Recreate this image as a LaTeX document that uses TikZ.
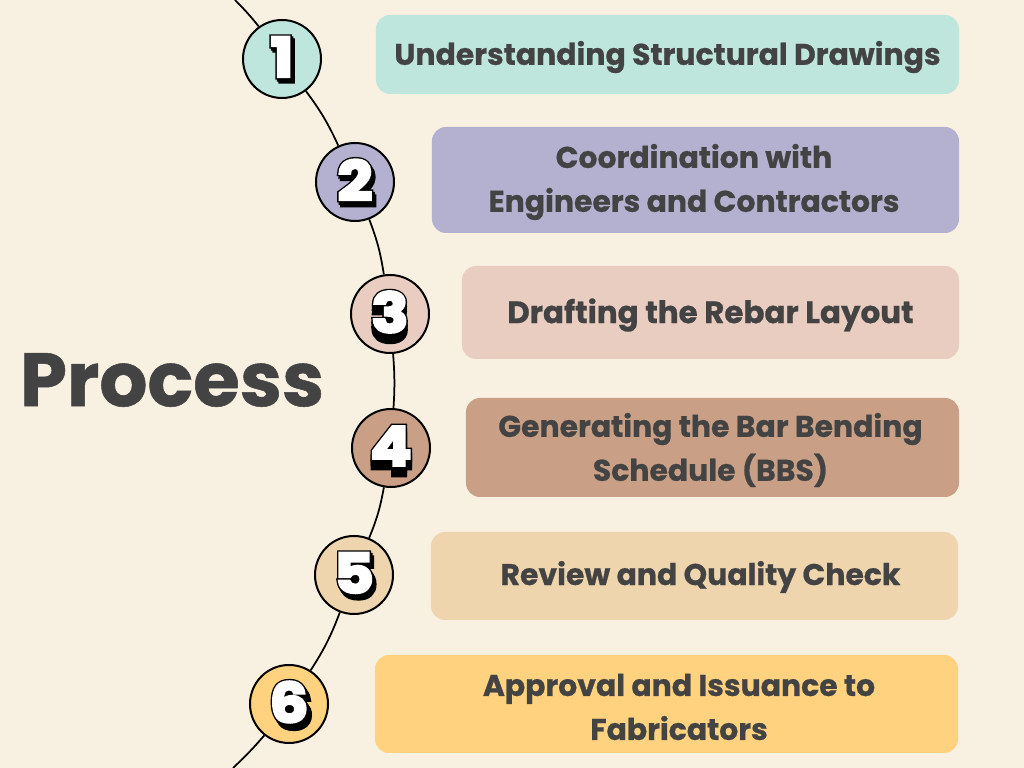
\documentclass[tikz,border=0pt]{standalone}
\usepackage{fontspec}
\setmainfont{Poppins}[BoldFeatures={FakeBold=0.7}]
\newfontfamily\digitface{Poppins}[BoldFeatures={FakeBold=5,FakeStretch=1.12}]
\newfontfamily\digitedge{Poppins}[BoldFeatures={FakeBold=10,FakeStretch=1.12}]
\usepackage{tikz}
\definecolor{cream}{RGB}{248, 240, 225}
\definecolor{ink}{RGB}{67, 67, 67}
\definecolor{mint}{RGB}{191, 230, 220}
\definecolor{lavender}{RGB}{179, 177, 207}
\definecolor{blush}{RGB}{233, 205, 193}
\definecolor{clay}{RGB}{201, 160, 134}
\definecolor{sand}{RGB}{239, 213, 174}
\definecolor{honey}{RGB}{255, 210, 127}
\tikzset{
  stepdot/.style={circle, draw=black, line width=0.4mm, minimum size=15.6mm, inner sep=0pt},
  stepbar/.style={rectangle, rounded corners=2.8mm, inner sep=0pt},
  steptext/.style={text=ink, align=center, font=\fontsize{17}{25}\selectfont\bfseries},
  wire/.style={black, line width=0.35mm},
  edgefont/.style={text=black, font=\fontsize{31}{31}\selectfont\digitedge\bfseries},
  facefont/.style={text=white, font=\fontsize{31}{31}\selectfont\digitface\bfseries},
}
% black block behind the digit, then the white face
\newcommand{\stepdigit}[5]{
  \node[edgefont] (#1a) at ([shift={(0,-2)}]#2) {#3};
  \node[edgefont] (#1b) at ([shift={(#4/2,#5/2-2)}]#2) {#3};
  \node[edgefont] (#1c) at ([shift={(#4,#5-2)}]#2) {#3};
  \node[facefont] (#1f) at ([shift={(0,-2)}]#2) {#3};
}
\begin{document}
\begin{tikzpicture}[x=0.2mm, y=-0.2mm]
  \useasboundingbox[fill=cream] (0,0) rectangle (1024,768);
  % bars
  \node[stepbar, fill=mint,     minimum width=116.6mm, minimum height=15.8mm] (bar1) at (667.5, 54.5) {};
  \node[stepbar, fill=lavender, minimum width=105.4mm, minimum height=21.2mm] (bar2) at (695.5,180) {};
  \node[stepbar, fill=blush,    minimum width=99.4mm,  minimum height=18.6mm] (bar3) at (710.5,312.5) {};
  \node[stepbar, fill=clay,     minimum width=98.6mm,  minimum height=19.8mm] (bar4) at (712.5,447.5) {};
  \node[stepbar, fill=sand,     minimum width=105.4mm, minimum height=17.6mm] (bar5) at (694.5,576) {};
  \node[stepbar, fill=honey,    minimum width=116.6mm, minimum height=19.6mm] (bar6) at (666.5,704) {};
  % bar labels
  \node[steptext] (label1) at (667.5, 57) {Understanding Structural Drawings};
  \node[steptext] (label2) at (694,182) {Coordination with\\Engineers and Contractors};
  \node[steptext, font=\fontsize{17.6}{25}\selectfont\bfseries] (label3) at (710.5,315) {Drafting the Rebar Layout};
  \node[steptext] (label4) at (710.5,450) {Generating the Bar Bending\\Schedule (BBS)};
  \node[steptext] (label5) at (700.5,577) {Review and Quality Check};
  \node[steptext] (label6) at (679,707) {Approval and Issuance to\\Fabricators};
  \node[text=ink, font=\fontsize{43}{43}\selectfont\bfseries] (title) at (172,380) {Process};
  % circles
  \node[stepdot, fill=mint]     (dot1) at (282, 59) {};
  \node[stepdot, fill=lavender] (dot2) at (355,182) {};
  \node[stepdot, fill=blush]    (dot3) at (390,314) {};
  \node[stepdot, fill=clay]     (dot4) at (391,448) {};
  \node[stepdot, fill=sand]     (dot5) at (354,575) {};
  \node[stepdot, fill=honey]    (dot6) at (289,704) {};
  % the long curve
  \coordinate (topend) at (235,0);
  \coordinate (botend) at (233,768);
  \draw[wire] (topend) to[bend left=3] (dot1);
  \draw[wire] (dot1) to[bend left=6] (dot2);
  \draw[wire] (dot2) to[bend left=6] (dot3);
  \draw[wire] (dot3) to[bend left=4] (dot4);
  \draw[wire] (dot4) to[bend left=6] (dot5);
  \draw[wire] (dot5) to[bend left=6] (dot6);
  \draw[wire] (dot6) to[bend left=3] (botend);
  % digits
  \stepdigit{n1}{dot1}{1}{3}{4}
  \stepdigit{n2}{dot2}{2}{3}{5}
  \stepdigit{n3}{dot3}{3}{0}{9}
  \stepdigit{n4}{dot4}{4}{0}{9}
  \stepdigit{n5}{dot5}{5}{3}{5}
  \stepdigit{n6}{dot6}{6}{4}{6}
\end{tikzpicture}
\end{document}
